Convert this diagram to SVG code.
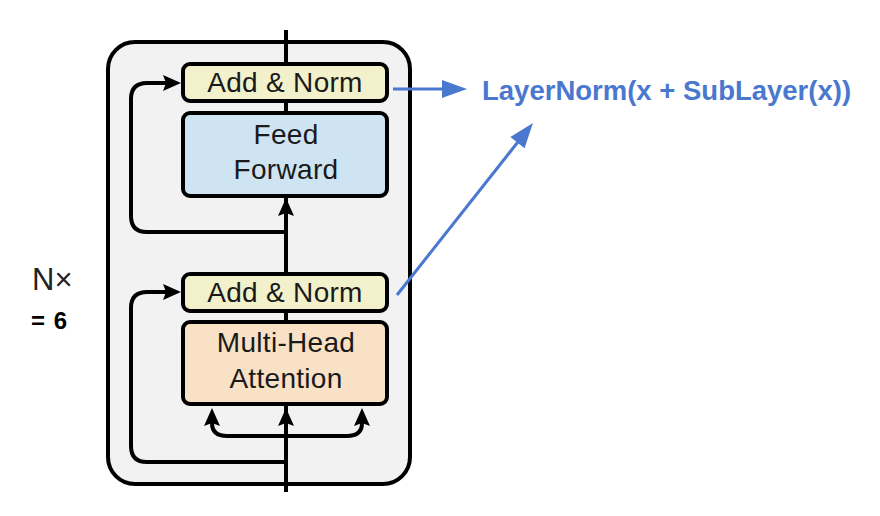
<svg xmlns="http://www.w3.org/2000/svg" width="880" height="516" viewBox="0 0 880 516">
<style>
.ln{fill:none;stroke:#000;stroke-width:4;stroke-linecap:butt;stroke-linejoin:round}
.bl{fill:none;stroke:#4a78cf;stroke-width:3}
.box{stroke:#000;stroke-width:4}
.t{font-family:"Liberation Sans",Arial,sans-serif;font-size:28px;fill:#1a1a1a;text-anchor:middle;letter-spacing:0.3px}
</style>
<defs>
<marker id="ah" markerUnits="userSpaceOnUse" viewBox="0 0 18 16" markerWidth="18" markerHeight="16" refX="3" refY="8" orient="auto" overflow="visible">
<path d="M0,0 L18,8 L0,16 L3,8 Z" fill="#000"/>
</marker>
<marker id="bh" markerUnits="userSpaceOnUse" viewBox="0 0 26 18" markerWidth="26" markerHeight="18" refX="2" refY="9" orient="auto" overflow="visible">
<path d="M0,0 L25,9 L0,18 Z" fill="#4a78cf"/>
</marker>
</defs>
<rect id="stack" x="108" y="42" width="302" height="442" rx="27" fill="#f2f2f2" stroke="#000" stroke-width="4"/>
<g id="connectors">
<path class="ln" d="M286,30 V492"/>
<path class="ln" d="M286,271 V213" marker-end="url(#ah)"/>
<path class="ln" d="M286,492 V423" marker-end="url(#ah)"/>
<path class="ln" d="M286,436 H227 Q212,436 212,423" marker-end="url(#ah)"/>
<path class="ln" d="M286,436 H347 Q362,436 362,423" marker-end="url(#ah)"/>
<path class="ln" d="M286,232 H147 Q131,232 131,216 V99 Q131,83 147,83 H166" marker-end="url(#ah)"/>
<path class="ln" d="M286,462 H147 Q131,462 131,446 V308 Q131,292 147,292 H166" marker-end="url(#ah)"/>
<path class="bl" d="M393,89 H444" marker-end="url(#bh)"/>
<path class="bl" d="M397,295 L518.7,141" marker-end="url(#bh)"/>
</g>
<g id="addnorm2">
<rect class="box" x="183" y="64" width="204" height="37" rx="7" fill="#f3f1cc"/>
<text class="t" x="285" y="92">Add &amp; Norm</text>
</g>
<g id="feedforward">
<rect class="box" x="183" y="113" width="204" height="83" rx="7" fill="#cfe4f2"/>
<text class="t" x="286" y="144">Feed</text>
<text class="t" x="286" y="179">Forward</text>
</g>
<g id="addnorm1">
<rect class="box" x="183" y="274" width="204" height="37" rx="7" fill="#f3f1cc"/>
<text class="t" x="285" y="302">Add &amp; Norm</text>
</g>
<g id="mha">
<rect class="box" x="183" y="322" width="204" height="82" rx="7" fill="#f8e1c4"/>
<text class="t" x="286" y="352">Multi-Head</text>
<text class="t" x="286" y="388">Attention</text>
</g>
<g id="formula">
<text x="482" y="100" font-family="'Liberation Sans',Arial,sans-serif" font-size="27.5" font-weight="bold" fill="#4a78cf">LayerNorm(x + SubLayer(x))</text>
</g>
<g id="nx">
<text x="32" y="290" font-family="'Liberation Sans',Arial,sans-serif" font-size="31" fill="#222">N×</text>
<text x="31" y="329" font-family="'Liberation Sans',Arial,sans-serif" font-size="24" font-weight="bold" fill="#000" letter-spacing="1">= 6</text>
</g>
</svg>
